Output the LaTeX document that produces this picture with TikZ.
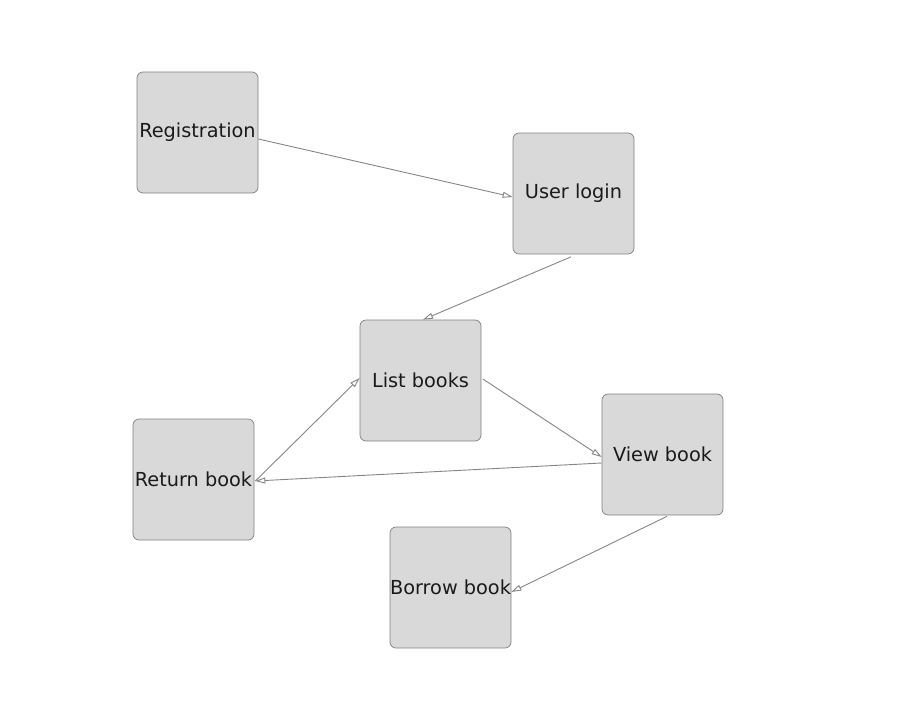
\documentclass[tikz,border=0pt]{standalone}
\usepackage{fontspec}
\setmainfont{DejaVu Sans}
\usetikzlibrary{arrows.meta}
\definecolor{boxfill}{HTML}{D9D9D9}
\definecolor{boxline}{HTML}{808080}
\definecolor{edgecol}{HTML}{858585}
\definecolor{txt}{HTML}{1A1A1A}
\begin{document}
\begin{tikzpicture}[x=1pt,y=-1pt,
  stepbox/.style={draw=boxline, line width=0.7pt, fill=boxfill, rounded corners=6pt,
    minimum width=121pt, minimum height=121pt, inner sep=0pt, text=txt,
    font=\fontsize{19.3pt}{23pt}\selectfont},
  flow/.style={draw=edgecol, line width=0.9pt, -{Triangle[open, length=10pt, width=6pt]}}]
\useasboundingbox (0,0) rectangle (902,725);
\node[stepbox] (reg) at (197.5,132.5) {Registration};
\node[stepbox] (login) at (573.5,193.5) {User login};
\node[stepbox] (list) at (420.5,380.5) {List books};
\node[stepbox] (view) at (662.5,454.5) {View book};
\node[stepbox] (ret) at (193.5,479.5) {Return book};
\node[stepbox] (borrow) at (450.5,587.5) {Borrow book};
\draw[flow] ([yshift=-6.5pt]reg.east) -- ([yshift=-3.5pt]login.west);
\draw[flow] ([xshift=-2.5pt,yshift=-2.5pt]login.south) -- ([xshift=2.5pt]list.north);
\draw[flow] ([xshift=1.5pt,yshift=1.5pt]list.east) -- ([yshift=-2.5pt]view.west);
\draw[flow] ([yshift=-8.5pt]view.west) -- ([xshift=1pt,yshift=-1.5pt]ret.east);
\draw[flow] ([xshift=1pt,yshift=-1.5pt]ret.east) -- ([yshift=2.5pt]list.west);
\draw[flow] ([xshift=4.5pt,yshift=-1pt]view.south) -- ([yshift=-4.5pt]borrow.east);
\end{tikzpicture}
\end{document}
